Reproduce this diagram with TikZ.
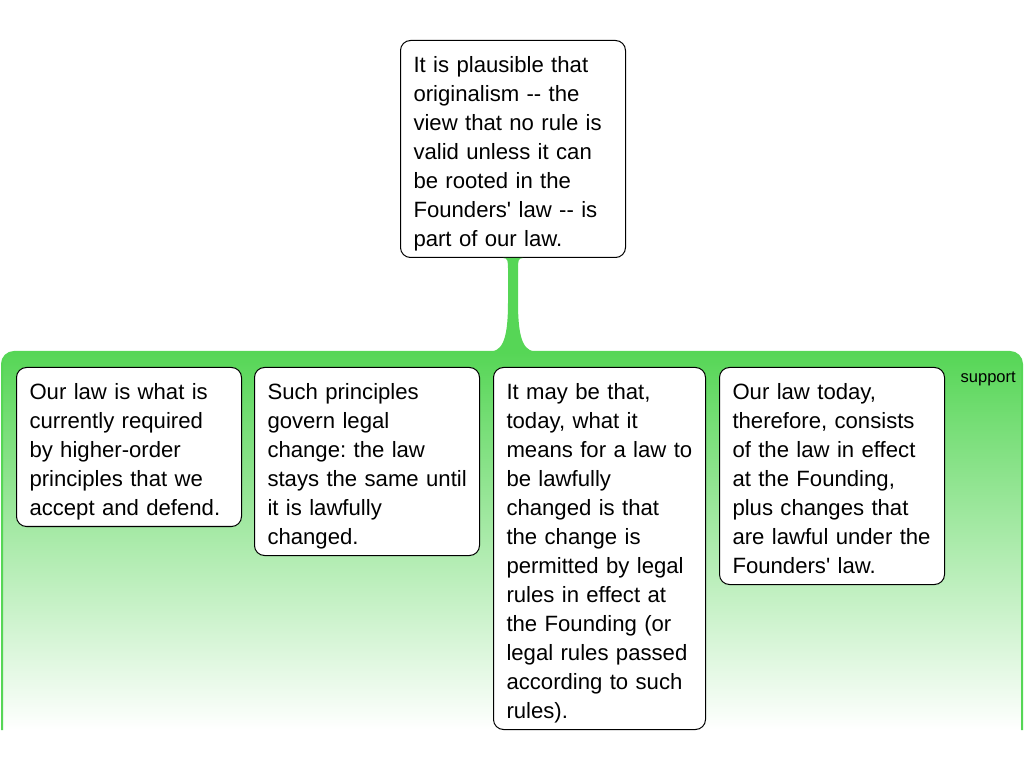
\documentclass[tikz,border=0pt]{standalone}
\usepackage{fontspec}
\setmainfont{Liberation Sans}[Ligatures=TeXOff]
\frenchspacing
\usetikzlibrary{positioning, calc}
\definecolor{grn}{RGB}{86,214,86}
\tikzset{
  Box1/.style = {
    draw, fill=white, rounded corners=7.5pt, line width=0.75pt,
    anchor=north west, text width=149.25pt,
    inner xsep=9.75pt, inner ysep=0pt,
    font=\fontsize{16.6pt}{21.75pt}\selectfont,
    execute at begin node={\parindent=0pt\rightskip=0pt plus 1fil minus 40pt\relax\rule{0pt}{24pt}},
    execute at end node={\rule[-8.25pt]{0pt}{8.25pt}},
  },
  Band1/.style = {
    top color=grn, bottom color=white, draw=none,
  },
  Label1/.style = {
    anchor=base east, inner sep=0pt,
    font=\fontsize{12.4pt}{14pt}\selectfont,
  }
}

\begin{document}
\begin{tikzpicture}[x=0.75pt, y=0.75pt]
      \useasboundingbox (0,0) rectangle (1024,768);
      % support band
      \shade[Band1] (2,38) -- (2,404) arc[start angle=180, end angle=90, radius=9pt]
        -- (1010,416) arc[start angle=90, end angle=0, radius=9pt] -- (1022,38) -- cycle;
      \draw[grn, line width=1.5pt] (2,38) -- (2,404) arc[start angle=180, end angle=90, radius=9pt]
        -- (1010,416) arc[start angle=90, end angle=0, radius=9pt] -- (1022,38);
      \node[Label1] (sup) at (1016,385) {support};
      % claim
      \node[Box1] (claim) at (400,728) {It is plausible that\\originalism -- the\\view that no rule is\\valid unless it can\\be rooted in the\\Founders' law -- is\\part of our law.};
      \coordinate (bandtop) at (claim.south |- 0,416);
      \fill[grn] ($(claim.south)+(-10,0)$) .. controls ($(claim.south)+(-5,0)$) and ($(claim.south)+(-5,-3)$) .. ($(claim.south)+(-5,-12)$)
        -- ($(bandtop)+(-5,50)$) .. controls ($(bandtop)+(-5,8)$) and ($(bandtop)+(-12,0)$) .. ($(bandtop)+(-26,0)$)
        -- ($(bandtop)+(26,0)$) .. controls ($(bandtop)+(12,0)$) and ($(bandtop)+(5,8)$) .. ($(bandtop)+(5,50)$)
        -- ($(claim.south)+(5,-12)$) .. controls ($(claim.south)+(5,-3)$) and ($(claim.south)+(5,0)$) .. ($(claim.south)+(10,0)$) -- cycle;
      % premises
      \node[Box1] (p1) at (16,401) {Our law is what is\\currently required\\by higher-order\\principles that we\\accept and defend.};
      \node[Box1, below right=0pt and 9pt of p1.north east] (p2) {Such principles\\govern legal\\change: the law\\stays the same until\\it is lawfully\\changed.};
      \node[Box1, text width=139.5pt, below right=0pt and 9.75pt of p2.north east] (p3) {It may be that,\\today, what it\\means for a law to\\be lawfully\\changed is that\\the change is\\permitted by legal\\rules in effect at\\the Founding (or\\legal rules passed\\according to such\\rules).};
      \node[Box1, below right=0pt and 9.75pt of p3.north east] (p4) {Our law today,\\therefore, consists\\of the law in effect\\at the Founding,\\plus changes that\\are lawful under the\\Founders' law.};
    \end{tikzpicture}
\end{document}
